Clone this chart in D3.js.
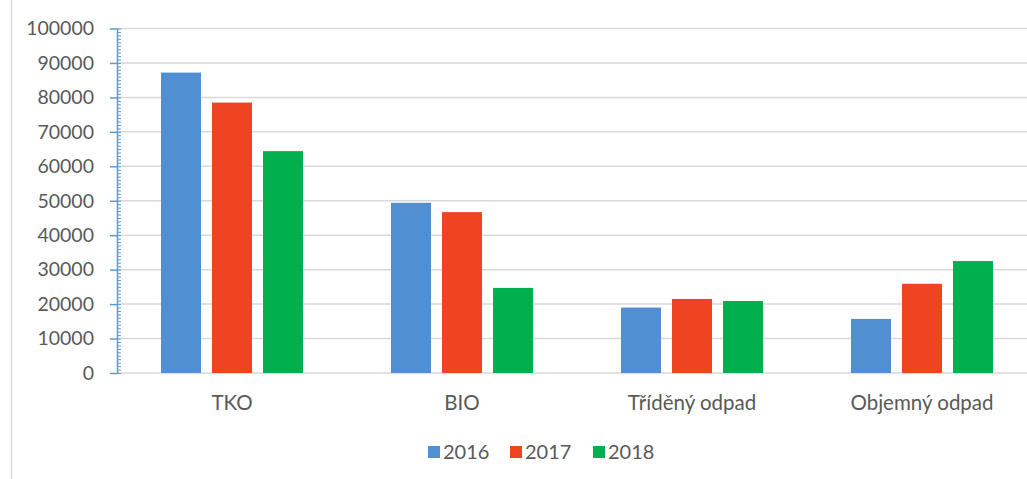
<!DOCTYPE html>
<html>
<head>
<meta charset="utf-8">
<script src="https://cdn.jsdelivr.net/npm/d3@7"></script>
<style>
  body { margin: 0; background: #fff; }
  text { font-family: Lato, "Open Sans", sans-serif; fill: #595959; }
</style>
</head>
<body>
<script>
let categories = ["TKO", "BIO", "Tříděný odpad", "Objemný odpad"];
let years = ["2016", "2017", "2018"];
let values2016 = [87200, 49400, 19000, 15700];
let values2017 = [78500, 46700, 21500, 25900];
let values2018 = [64400, 24700, 20900, 32500];
let yTicks = [0, 10000, 20000, 30000, 40000, 50000, 60000, 70000, 80000, 90000, 100000];
let colors = ["#4f8fd2", "#ef4422", "#00b04f"];

let svgWidth = 1027;
let svgHeight = 479;

let margin = {
    top: 28.5,
    right: -10,
    bottom: 106,
    left: 117
}

let chartWidth = svgWidth - margin.left - margin.right;
let chartHeight = svgHeight - margin.top - margin.bottom;

let svg = d3.select("body")
    .append("svg")
    .attr("width", svgWidth)
    .attr("height", svgHeight);

// outer frame line on the left
svg.append("line")
    .attr("x1", 11.5).attr("x2", 11.5)
    .attr("y1", 0).attr("y2", svgHeight)
    .attr("stroke", "#d9d9d9")
    .attr("stroke-width", 1.5);

let chartGroup = svg.append("g")
    .attr("transform", `translate(${margin.left}, ${margin.top})`);

let series = [values2016, values2017, values2018];
let data = categories.map((c, i) => ({
    category: c,
    values: years.map((y, j) => ({ year: y, value: series[j][i], color: colors[j] }))
}));

let xScale = d3.scaleBand()
    .domain(categories)
    .range([0, chartWidth]);

let xInner = d3.scaleBand()
    .domain(years)
    .range([0, xScale.bandwidth()])
    .paddingInner(0.216)
    .paddingOuter(0.863);

let yScale = d3.scaleLinear()
    .domain([0, 100000])
    .range([chartHeight, 0]);

// gridlines
chartGroup.append("g")
    .selectAll("line")
    .data(yTicks.slice(1))
    .join("line")
    .attr("x1", 0)
    .attr("x2", chartWidth)
    .attr("y1", d => yScale(d))
    .attr("y2", d => yScale(d))
    .attr("stroke", "#d9d9d9")
    .attr("stroke-width", 1.5);

// baseline
chartGroup.append("line")
    .attr("x1", 0).attr("x2", chartWidth)
    .attr("y1", chartHeight).attr("y2", chartHeight)
    .attr("stroke", "#d9d9d9")
    .attr("stroke-width", 1.5);

// bars
chartGroup.append("g")
    .selectAll("g")
    .data(data)
    .join("g")
    .attr("transform", d => `translate(${xScale(d.category)}, 0)`)
    .selectAll("rect")
    .data(d => d.values)
    .join("rect")
    .attr("x", d => xInner(d.year))
    .attr("width", xInner.bandwidth())
    .attr("y", d => yScale(d.value))
    .attr("height", d => chartHeight - yScale(d.value))
    .attr("fill", d => d.color);

// minor ticks
let minorAxis = d3.axisRight(yScale)
    .tickValues(d3.range(0, 100001, 1000))
    .tickSize(4)
    .tickFormat("");
chartGroup.append("g")
    .call(minorAxis)
    .call(g => g.select(".domain").remove())
    .selectAll("line")
    .attr("stroke", "#5b9bd5");

// Y Axis
let leftAxis = d3.axisLeft(yScale)
    .tickValues(yTicks)
    .tickSize(7)
    .tickSizeOuter(0)
    .tickPadding(16)
    .tickFormat(d3.format("d"));
let yAxis = chartGroup.append("g").call(leftAxis);
yAxis.select(".domain").attr("stroke", "#5b9bd5").attr("stroke-width", 1.5);
yAxis.selectAll(".tick line").attr("stroke", "#5b9bd5").attr("stroke-width", 1.5);
yAxis.selectAll("text")
    .style("font-size", "19.5px")
    .attr("font-family", null);

// X labels
chartGroup.append("g")
    .selectAll("text")
    .data(categories)
    .join("text")
    .attr("x", d => xScale(d) + xScale.bandwidth() / 2)
    .attr("y", chartHeight + 37)
    .attr("text-anchor", "middle")
    .style("font-size", "20.5px")
    .text(d => d);

// legend
let legendX = [428, 510, 593];
let legend = svg.append("g")
    .selectAll("g")
    .data(years)
    .join("g")
    .attr("transform", (d, i) => `translate(${legendX[i]}, 446)`);
legend.append("rect")
    .attr("width", 12)
    .attr("height", 12)
    .attr("fill", (d, i) => colors[i]);
legend.append("text")
    .attr("x", 15)
    .attr("y", 13)
    .style("font-size", "20px")
    .text(d => d);
</script>
</body>
</html>
